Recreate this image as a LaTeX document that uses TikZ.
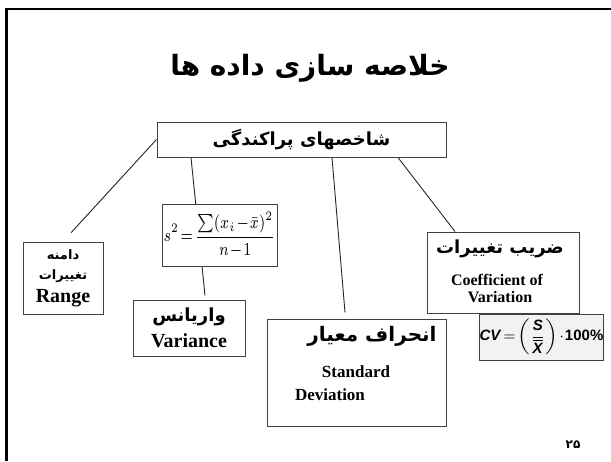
\documentclass[tikz,border=0pt]{standalone}
\usepackage{fontspec}
\usepackage{amsmath}
\setmainfont{Liberation Serif}
\setsansfont{Liberation Sans}
\newfontfamily\fafont[Script=Arabic]{DejaVu Sans}
\TeXXeTstate=1
\usetikzlibrary{backgrounds}

\tikzset{
  box/.style={draw=black!75, line width=0.5pt, fill=white, inner sep=0pt, align=center},
  label/.style={inner sep=0pt, align=center},
  link/.style={line width=0.45pt, black!85}
}
\newcommand{\fasize}[1]{\fafont\bfseries\fontsize{#1}{#1}\selectfont}
\newcommand{\ensize}[1]{\bfseries\fontsize{#1}{#1}\selectfont}

\begin{document}
\begin{tikzpicture}[x=0.5pt, y=-0.5pt]
  \useasboundingbox (0,0) rectangle (611,461);
  % frame
  \draw[line width=1.3pt] (6.5,461) -- (6.5,9) -- (611,9);

  \node[label] (title) at (310,68) {\fasize{14}\beginR خلاصه سازی داده ها\endR};

  \node[box, minimum width=144.5pt, minimum height=17.5pt] (top) at (301.5,139.5)
    {\fasize{9}\beginR شاخصهای پراکندگی\endR};

  % range
  \node[box, minimum width=40pt, minimum height=36pt] (range) at (63,278) {};
  \node[label] (rangefa) at (63,255) {\fasize{6.5}\beginR دامنه\endR};
  \node[label] (rangefb) at (63,276) {\fasize{6.5}\beginR تغییرات\endR};
  \node[label] (rangeen) at (63,298) {\ensize{10}Range};

  % variance formula
  \node[box, minimum width=57.5pt, minimum height=31pt] (sform) at (219.5,235)
    {\fontsize{7}{8}\selectfont\scalebox{1}[1.3]{$\displaystyle s^2\!=\!\frac{\sum(x_i\!-\!\bar{x})^2}{n\!-\!1}$}};

  % variance
  \node[box, minimum width=56pt, minimum height=28pt] (var) at (189,328) {};
  \node[label] (varfa) at (189,317) {\fasize{9}\beginR واریانس\endR};
  \node[label] (varen) at (189,341) {\ensize{10}Variance};

  % standard deviation
  \node[box, minimum width=89.5pt, minimum height=53.5pt] (std) at (356.5,372.5) {};
  \node[label] (stdfa) at (372,336) {\fasize{10}\beginR انحراف معیار\endR};
  \node[label] (stden) at (356,372) {\ensize{8.5}Standard};
  \node[label] (stdtwo) at (330,395) {\ensize{8.5}Deviation};

  % coefficient of variation
  \node[box, minimum width=76pt, minimum height=40.5pt] (cv) at (503,272.5) {};
  \node[label] (cvfa) at (500,249) {\fasize{9}\beginR ضریب تغییرات\endR};
  \node[label] (cven) at (497,280) {\ensize{8}Coefficient of};
  \node[label] (cvtwo) at (500,297) {\ensize{8}Variation};

  \node[box, fill=black!5, minimum width=58.5pt, minimum height=23pt] (cvf) at (541.5,337)
    {\sffamily\bfseries\fontsize{7.5}{9}\selectfont$\textsf{\textit{CV}}\!=\!\left(\dfrac{\textsf{\textit{S}}}{\overline{\textsf{\textit{X}}}}\right)\!\cdot\!\textsf{100\%}$};

  \node[label] (page) at (573,445) {\fasize{6}۲۵};

  \begin{pgfonlayer}{background}
    \draw[link, shorten >=6pt] (top.west) -- (range.north);
    \draw[link] ([xshift=-55.25pt]top.south) -- ([xshift=8pt, yshift=2pt]var.north);
    \draw[link] ([xshift=15.25pt]top.south) -- ([xshift=-5.75pt, yshift=3pt]std.north);
    \draw[link] ([xshift=48.25pt]top.south) -- ([xshift=-24pt]cv.north);
  \end{pgfonlayer}
\end{tikzpicture}
\end{document}
